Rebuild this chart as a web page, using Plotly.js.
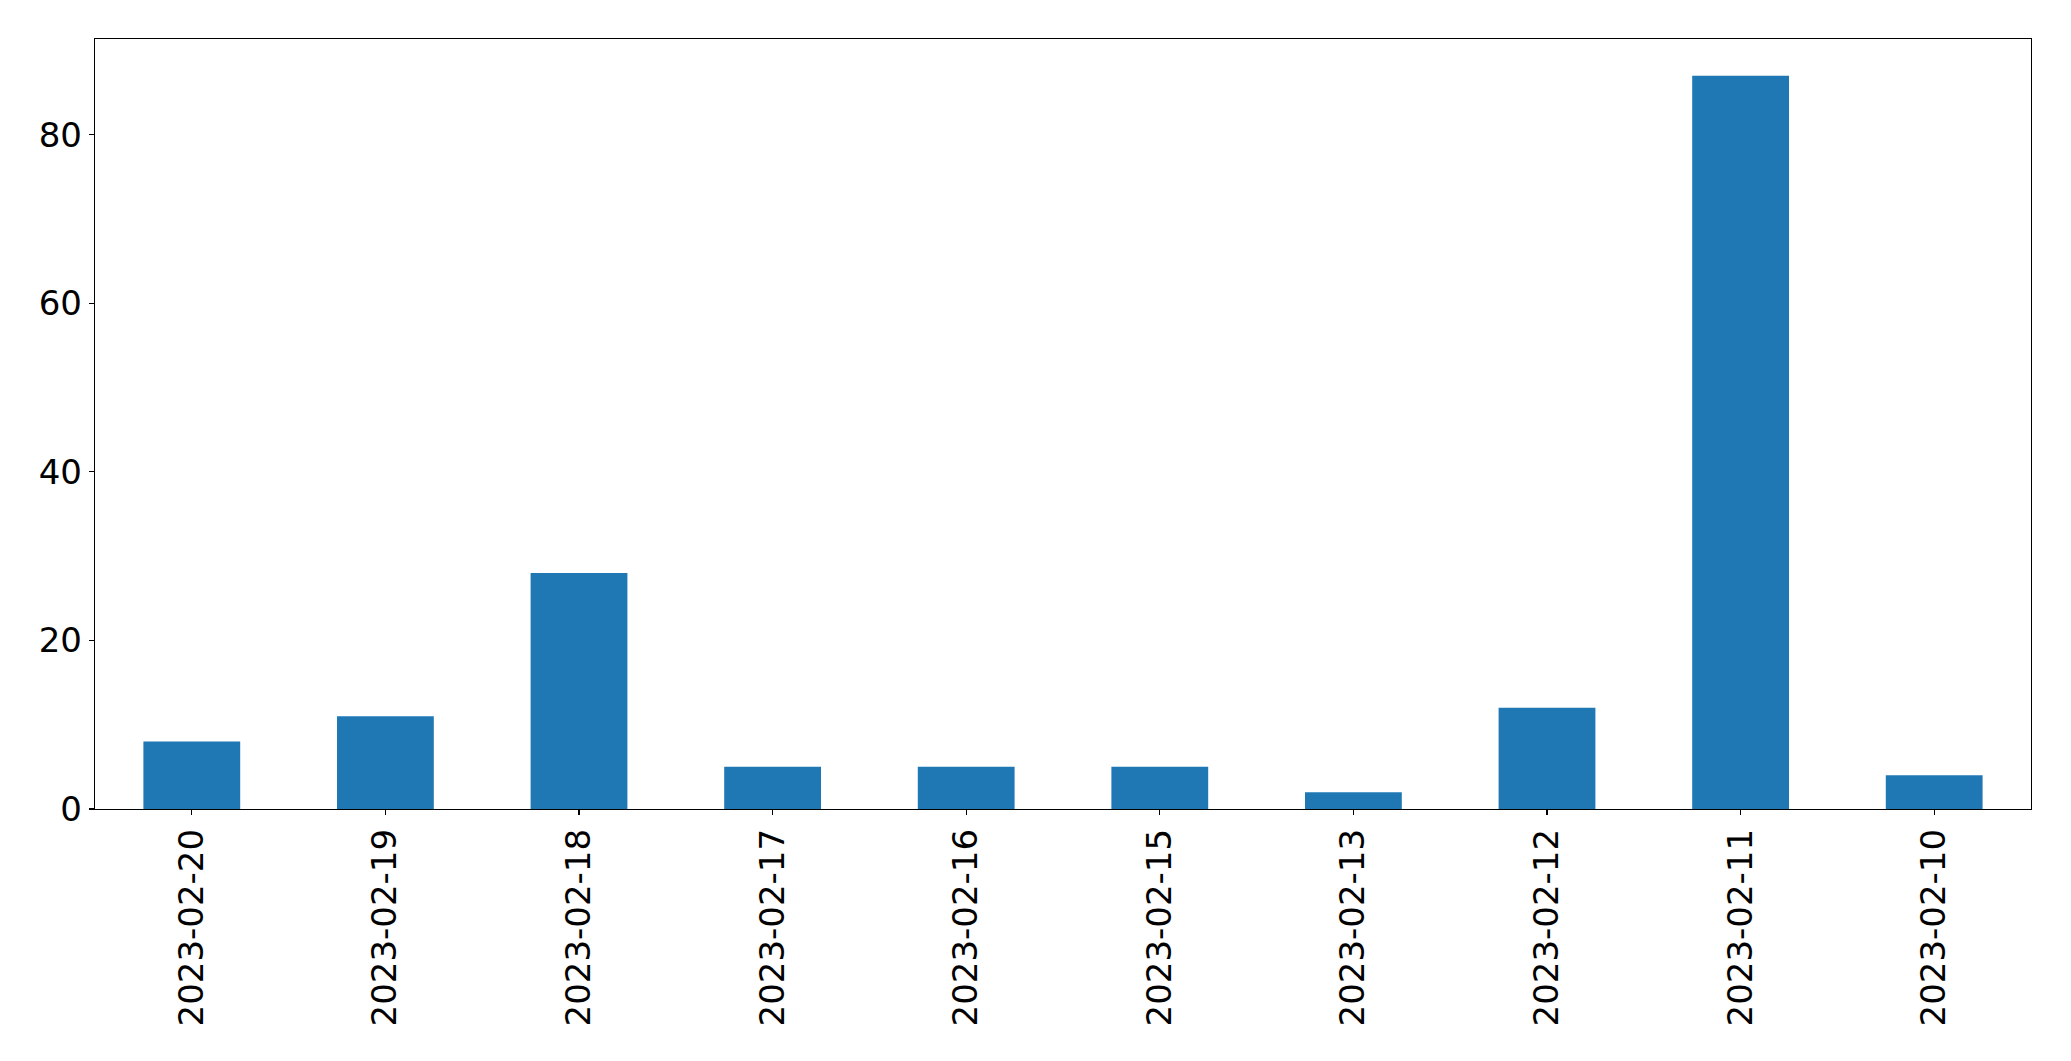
<!DOCTYPE html>
<html>
<head>
<meta charset="utf-8">
<script src="https://cdn.plot.ly/plotly-3.0.1.min.js"></script>
<style>html,body{margin:0;padding:0;background:#fff;}#chart{width:2071px;height:1061px;}</style>
</head>
<body>
<div id="chart"></div>
<script>
const categories = ["2023-02-20","2023-02-19","2023-02-18","2023-02-17","2023-02-16","2023-02-15","2023-02-13","2023-02-12","2023-02-11","2023-02-10"];
const counts = [8, 11, 28, 5, 5, 5, 2, 12, 87, 4];
const yTicks = [0, 20, 40, 60, 80];

const trace = {
  type: "bar",
  x: categories,
  y: counts,
  width: 0.5,
  marker: {color: "#1f77b4", line: {width: 0}},
  hoverinfo: "x+y"
};

const font = {family: "DejaVu Sans, sans-serif", size: 34, color: "#000"};

const layout = {
  width: 2071,
  height: 1061,
  margin: {l: 95, r: 40, t: 39, b: 252, pad: 0},
  paper_bgcolor: "#fff",
  plot_bgcolor: "#fff",
  showlegend: false,
  font: font,
  xaxis: {
    type: "category",
    range: [-0.5, categories.length - 0.5],
    tickangle: -90,
    ticks: "outside",
    ticklen: 5,
    tickwidth: 1.3,
    tickcolor: "#000",
    showline: true,
    linecolor: "#000",
    linewidth: 1.3,
    mirror: true,
    showgrid: false,
    zeroline: false,
    tickfont: font,
    automargin: false
  },
  yaxis: {
    range: [0, Math.max(...counts) * 1.05],
    tickvals: yTicks,
    ticktext: yTicks.map(String),
    ticks: "outside",
    ticklen: 5,
    tickwidth: 1.3,
    tickcolor: "#000",
    showline: true,
    linecolor: "#000",
    linewidth: 1.3,
    mirror: true,
    showgrid: false,
    zeroline: false,
    tickfont: font,
    automargin: false
  }
};

Plotly.newPlot("chart", [trace], layout, {displayModeBar: false, staticPlot: true});
</script>
</body>
</html>
